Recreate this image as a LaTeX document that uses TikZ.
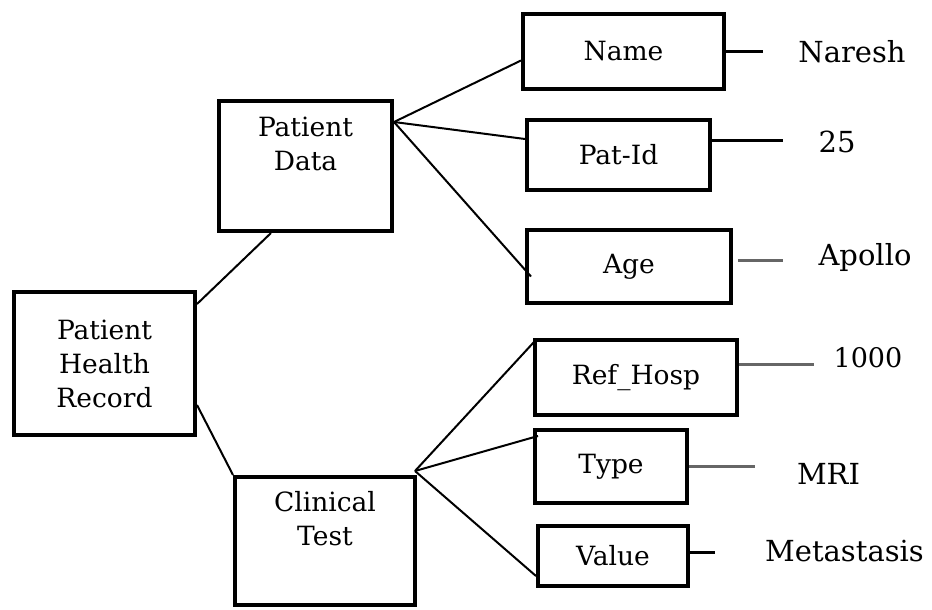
\documentclass[tikz,border=0pt]{standalone}
\usepackage{fontspec}
\setmainfont{DejaVu Serif}
\usetikzlibrary{calc}

\begin{document}
\begin{tikzpicture}[x=1pt, y=-1pt,
    box/.style 2 args={draw, line width=4pt, inner sep=0pt, align=center,
      minimum width=#1, minimum height=#2,
      font=\fontsize{26.5}{34}\selectfont},
    val/.style={inner sep=0pt, font=\fontsize{29}{34}\selectfont},
    link/.style={line width=2pt},
    stub/.style={line width=3pt},
    greystub/.style={line width=3pt, black!60}]
\useasboundingbox (0,0) rectangle (932,610);

% boxes
\node[box={181pt}{143pt}] (rec) at (104.5,363.5) {Patient\\Health\\Record};
\node[box={173pt}{130pt}] (pdata) at (305.5,166) {Patient\\Data\\\strut};
\node[box={180pt}{128pt}] (ctest) at (325,541) {Clinical\\Test\\\strut};

\node[box={201pt}{75pt}] (name) at (623.5,51.5) {Name};
\node[box={183pt}{70pt}] (patid) at (618.5,155) {Pat-Id};
\node[box={204pt}{73pt}] (age) at (629,266.5) {Age};
\node[box={202pt}{75pt}] (refhosp) at (636,377.5) {Ref\_Hosp};
\node[box={152pt}{73pt}] (type) at (611,466.5) {Type};
\node[box={150pt}{60pt}] (value) at (613,556) {Value};

% values
\node[val] (naresh) at (852,52) {Naresh};
\node[val] (num) at (837,142) {25};
\node[val] (apollo) at (865,257) {Apollo};
\node[val, font=\fontsize{27}{34}\selectfont] (cost) at (868,358) {1000};
\node[val] (mri) at (828.5,473.5) {MRI};
\node[val] (meta) at (844.5,551) {Metastasis};

% links
\draw[link] ($(rec.north east)+(0,14)$) -- ($(pdata.south west)+(54,0)$);
\draw[link] ($(rec.north east)+(0,115)$) -- (ctest.north west);

\draw[link] ($(pdata.north east)+(0,23)$) -- ($(name.west)+(0,9)$);
\draw[link] ($(pdata.north east)+(0,23)$) -- ($(patid.west)+(0,-16)$);
\draw[link] ($(pdata.north east)+(0,23)$) -- ($(age.west)+(6,10)$);

\draw[link] ($(ctest.north east)+(-2,-4)$) -- ($(refhosp.north west)+(1,4)$);
\draw[link] ($(ctest.north east)+(-2,-4)$) -- ($(type.north west)+(5,8)$);
\draw[link] ($(ctest.north east)+(-2,-4)$) -- ($(value.south west)+(0,-12)$);

% stubs
\draw[stub] (name.east) -- ++(37,0);
\draw[stub] ($(patid.east)+(0,-15)$) -- ++(71,0);
\draw[greystub] ($(age.east)+(5,-6.5)$) -- ++(45,0);
\draw[greystub] ($(refhosp.east)+(0,-13.5)$) -- ++(75,0);
\draw[greystub] (type.east) -- ++(66,0);
\draw[stub] ($(value.east)+(0,-4)$) -- ++(25,0);
\end{tikzpicture}
\end{document}
